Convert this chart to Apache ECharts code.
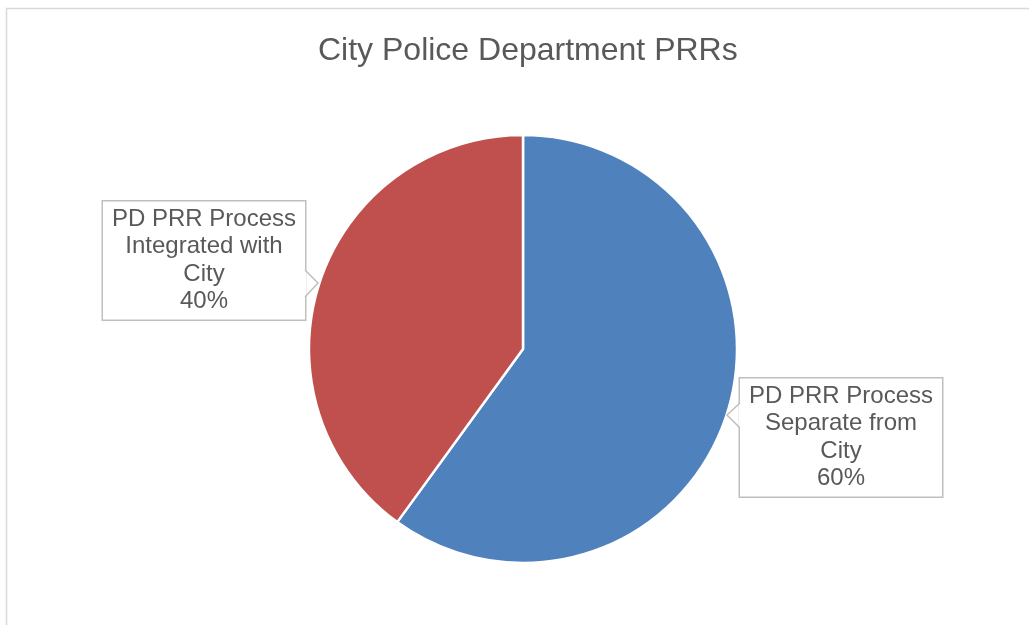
<!DOCTYPE html>
<html>
<head>
<meta charset="utf-8">
<script src="https://cdn.jsdelivr.net/npm/echarts@6/dist/echarts.min.js"></script>
<style>
  html, body { margin: 0; padding: 0; background: #ffffff; }
  #chart { width: 1029px; height: 625px; }
</style>
</head>
<body>
<div id="chart"></div>
<script>
// Share of police departments by public records request (PRR) process
const categories = [
  'PD PRR Process\nSeparate from\nCity',
  'PD PRR Process\nIntegrated with\nCity'
];
const shares = [60, 40];
const sliceColors = ['#4f81bd', '#c0504d'];

// Callout box centres (label placement only)
const calloutCentres = [[841, 437.5], [204, 260.5]];

const chart = echarts.init(document.getElementById('chart'), null, { renderer: 'canvas' });

const textColor = '#595959';
const boxBorder = '#bfbfbf';

chart.setOption({
  backgroundColor: '#ffffff',
  animation: false,
  title: {
    text: 'City Police Department PRRs',
    left: 313,
    top: 30,
    textStyle: {
      fontFamily: 'Liberation Sans, Arial, sans-serif',
      fontSize: 32,
      fontWeight: 'normal',
      color: textColor
    }
  },
  graphic: [
    // outer chart frame
    {
      type: 'polyline',
      z: 100,
      shape: { points: [[6.5, 640], [6.5, 8.5], [1040, 8.5]] },
      style: { stroke: '#d9d9d9', lineWidth: 1.5, fill: null }
    },
    // callout pointer, left box
    {
      type: 'line', z: 100,
      shape: { x1: 305, y1: 271, x2: 305, y2: 296 },
      style: { stroke: '#ffffff', lineWidth: 3 }
    },
    {
      type: 'polyline', z: 101,
      shape: { points: [[305, 270], [318, 283], [305, 297]] },
      style: { stroke: boxBorder, lineWidth: 1.5, fill: null }
    },
    // callout pointer, right box
    {
      type: 'line', z: 100,
      shape: { x1: 740, y1: 404, x2: 740, y2: 427 },
      style: { stroke: '#ffffff', lineWidth: 3 }
    },
    {
      type: 'polyline', z: 101,
      shape: { points: [[740, 403], [727, 415], [740, 428]] },
      style: { stroke: boxBorder, lineWidth: 1.5, fill: null }
    }
  ],
  series: [{
    type: 'pie',
    center: [523, 349],
    radius: 214,
    startAngle: 90,
    clockwise: true,
    data: categories.map((name, i) => ({
      name: name,
      value: shares[i],
      itemStyle: { color: sliceColors[i] }
    })),
    itemStyle: { borderColor: '#ffffff', borderWidth: 2.5 },
    label: {
      show: true,
      position: 'outside',
      formatter: '{b}\n{d}%',
      fontFamily: 'Liberation Sans, Arial, sans-serif',
      fontSize: 24,
      lineHeight: 27.5,
      color: textColor,
      align: 'center',
      verticalAlign: 'middle',
      backgroundColor: '#ffffff',
      borderColor: boxBorder,
      borderWidth: 1.5,
      width: 192,
      overflow: 'none',
      padding: [4, 5, 4, 5]
    },
    labelLine: { show: false },
    labelLayout: function (params) {
      const c = calloutCentres[params.dataIndex];
      return { x: c[0], y: c[1], align: 'center', verticalAlign: 'middle' };
    },
    emphasis: { disabled: true }
  }]
});
</script>
</body>
</html>
